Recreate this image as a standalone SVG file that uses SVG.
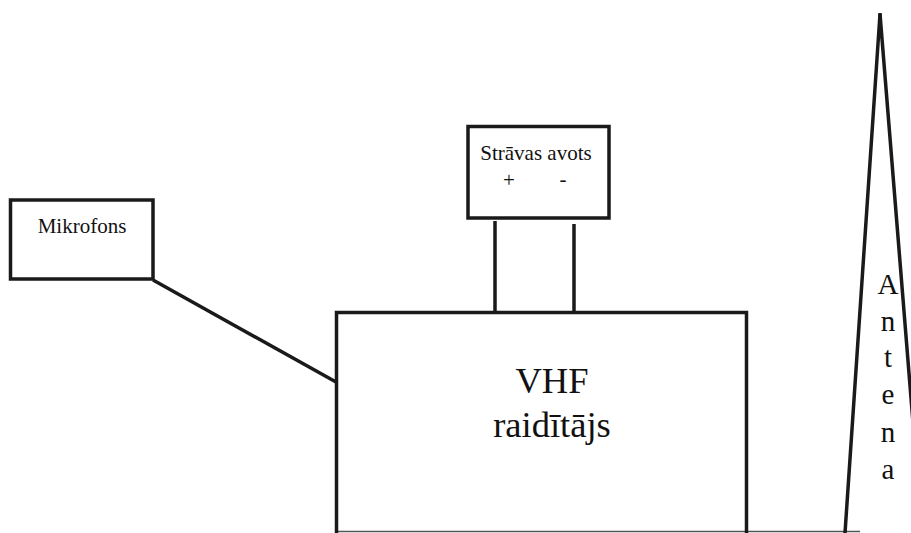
<svg xmlns="http://www.w3.org/2000/svg" width="911" height="533" viewBox="0 0 911 533">
<style>
.box{fill:#fff;stroke:#1a1a1a;stroke-width:3.5}
.wire{fill:none;stroke:#1a1a1a;stroke-width:3.5}
text{font-family:'Liberation Serif','Times New Roman',serif;fill:#111;text-anchor:middle}
</style>
<rect width="911" height="533" fill="#fff"/>
<g id="connectors">
<line class="wire" x1="153" y1="280" x2="336" y2="382"/>
<line class="wire" x1="495" y1="221" x2="495" y2="313"/>
<line class="wire" x1="574" y1="224" x2="574" y2="313"/>
<line x1="336" y1="531.5" x2="860" y2="531.5" stroke="#555" stroke-width="1.5"/>
</g>
<g id="mikrofons">
<rect class="box" x="10.5" y="200" width="142.5" height="79"/>
<text x="82" y="233" font-size="21">Mikrofons</text>
</g>
<g id="stravas-avots">
<rect class="box" x="468" y="126.5" width="141" height="91.5"/>
<text x="536" y="160" font-size="21">Strāvas avots</text>
<text x="509" y="187" font-size="21">+</text>
<text x="563" y="186" font-size="21">-</text>
</g>
<g id="vhf-raiditajs">
<path class="wire" d="M336.5,533 V312.5 H746.5 V533"/>
<text x="552" y="393" font-size="36.5">VHF</text>
<text x="552" y="437" font-size="36.5">raidītājs</text>
</g>
<g id="antena">
<path class="wire" d="M845,533 L880,14 L916,460"/>
<line class="wire" x1="880" y1="13" x2="880" y2="34" stroke-width="4"/>
<g font-size="29">
<text x="888" y="294">A</text>
<text x="888" y="331">n</text>
<text x="888" y="367">t</text>
<text x="888" y="404">e</text>
<text x="888" y="442">n</text>
<text x="888" y="479">a</text>
</g>
</g>
</svg>
